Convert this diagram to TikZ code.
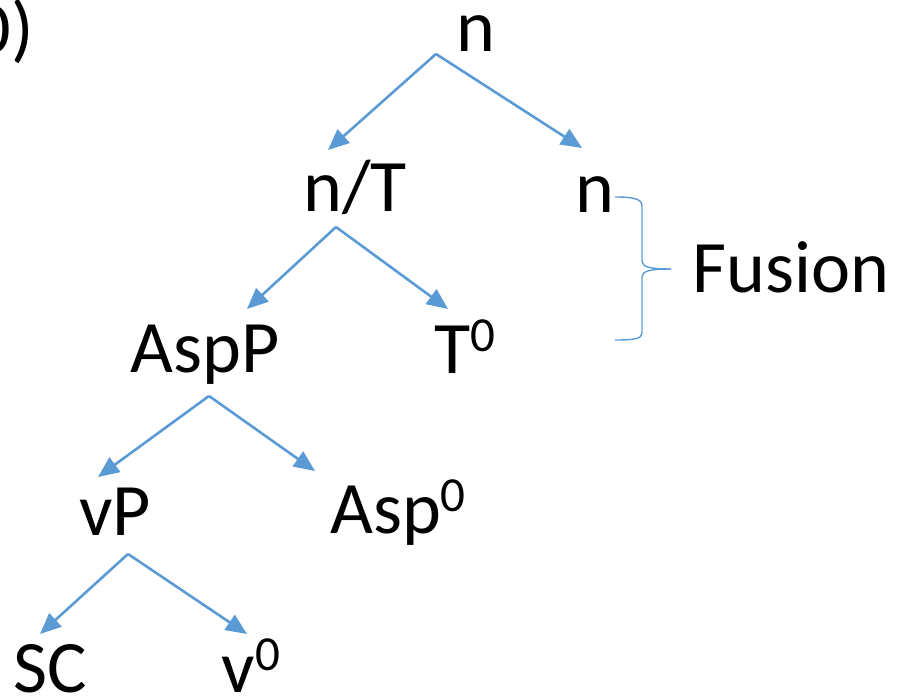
\documentclass[tikz,border=0pt]{standalone}
\usepackage{fontspec}
\setmainfont{Carlito}
\usetikzlibrary{arrows.meta}
\definecolor{treeblue}{RGB}{91,155,213}
% raised, smaller index (as in T^0)
\newcommand\headidx[1]{\raisebox{22pt}{\fontsize{49}{50}\selectfont #1}}
\begin{document}
\begin{tikzpicture}[x=1pt,y=-1pt,
  lbl/.style={inner sep=0pt,anchor=base,font=\fontsize{74}{80}\selectfont},
  branch/.style={draw=treeblue,line width=2.6pt,-{Triangle[length=21pt,width=18pt]}},
  fusebrace/.style={draw=treeblue,line width=1.4pt}]
\useasboundingbox (0,0) rectangle (897,700);

% example number, partly cut by the left edge
\node[lbl,anchor=base east] (num) at (34,54) {10)};

% labels of the tree
\node[lbl] (nroot) at (476,52) {n};
\node[lbl] (nT)    at (355,212) {n/T};
\node[lbl] (nR)    at (595,213) {n};
\node[lbl] (AspP)  at (205,373) {AspP};
\node[lbl] (T0)    at (465,374) {T\headidx{0}};
\node[lbl] (vP)    at (115,535) {vP};
\node[lbl] (Asp0)  at (398,533) {Asp\headidx{0}};
\node[lbl] (SC)    at (50,692)  {SC};
\node[lbl] (v0)    at (251,692) {v\headidx{0}};
\node[lbl] (fus)   at (791,293) {Fusion};

% branching points below each mother label, and arrow targets above daughters
\coordinate (j1) at (436,54);
\coordinate (j2) at (336,227);
\coordinate (j3) at (209,396);
\coordinate (j4) at (128,554);
\coordinate (t-nT)   at (328,150);
\coordinate (t-nR)   at (582,148);
\coordinate (t-AspP) at (247,309);
\coordinate (t-T0)   at (448,309);
\coordinate (t-vP)   at (98,477);
\coordinate (t-Asp0) at (315,471);
\coordinate (t-SC)   at (40,634);
\coordinate (t-v0)   at (247,634);

\draw[branch] (j1) -- (t-nT);
\draw[branch] (j1) -- (t-nR);
\draw[branch] (j2) -- (t-AspP);
\draw[branch] (j2) -- (t-T0);
\draw[branch] (j3) -- (t-vP);
\draw[branch] (j3) -- (t-Asp0);
\draw[branch] (j4) -- (t-SC);
\draw[branch] (j4) -- (t-v0);

% curly brace grouping n/T-level n with T0
\coordinate (bTop) at (615,197);
\coordinate (bTip) at (671,269);
\coordinate (bBot) at (615,340);
\draw[fusebrace] (bTop) .. controls (634,197) and (642,199) .. (642,206)
  -- (642,261) .. controls (642,267) and (650,269) .. (bTip);
\draw[fusebrace] (bTip) .. controls (650,269) and (642,271) .. (642,277)
  -- (642,333) .. controls (642,339) and (634,340) .. (bBot);
\end{tikzpicture}
\end{document}
